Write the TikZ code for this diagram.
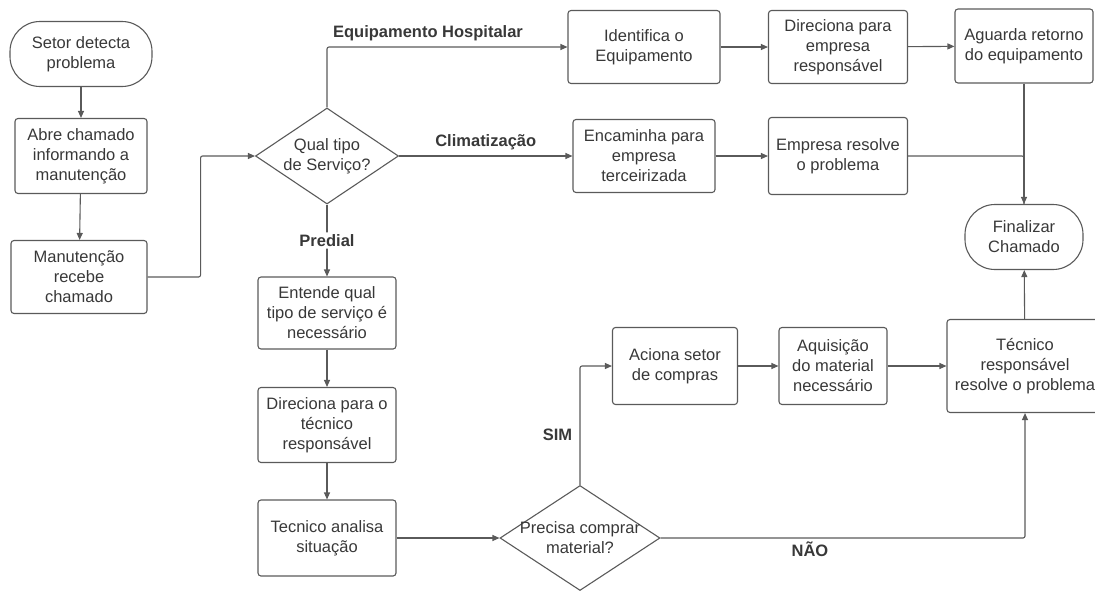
\documentclass[tikz,border=0pt]{standalone}
\usepackage{fontspec}
\setmainfont{Liberation Sans}
\usepackage{tikz}
\usetikzlibrary{shapes.geometric,arrows.meta}
\definecolor{fcline}{HTML}{5A5A5A}
\definecolor{fctext}{HTML}{383838}

\begin{document}
\begin{tikzpicture}[x=1pt, y=-1pt,
  every node/.style={text=fctext, font=\fontsize{16.5}{20}\selectfont, align=center},
  procbox/.style={draw=fcline, line width=1.1pt, rounded corners=3pt, inner sep=0pt},
  termbox/.style={draw=fcline, line width=1.1pt, rounded corners=30pt, inner sep=0pt},
  decbox/.style={diamond, draw=fcline, line width=1.1pt, inner sep=0pt},
  flow/.style={draw=fcline, line width=1.1pt, rounded corners=2pt, -{Triangle[length=7pt, width=6pt]}},
  link/.style={draw=fcline, line width=1.1pt, rounded corners=2pt},
  flowlabel/.style={font=\fontsize{16.5}{20}\selectfont\bfseries}]
  \useasboundingbox (0,0) rectangle (1095,590);
  % left column
  \node[termbox, minimum width=142pt, minimum height=65pt] (setor) at (81,54) {Setor detecta\\problema};
  \node[procbox, minimum width=132pt, minimum height=75pt] (abre) at (81,156) {Abre chamado\\informando a\\manutenção};
  \node[procbox, minimum width=136pt, minimum height=73pt] (manut) at (79,277) {Manutenção\\recebe\\chamado};
  % first decision
  \node[decbox, minimum width=143pt, minimum height=96pt, label={center:Qual tipo\\de Serviço?}] (qual) at (327,156) {};
  % top row
  \node[procbox, minimum width=152pt, minimum height=73pt] (ident) at (644,47) {Identifica o\\Equipamento};
  \node[procbox, minimum width=139pt, minimum height=73pt] (diremp) at (838,47) {Direciona para\\empresa\\responsável};
  \node[procbox, minimum width=138pt, minimum height=74pt] (aguarda) at (1024,46) {Aguarda retorno\\do equipamento};
  % second row
  \node[procbox, minimum width=142pt, minimum height=73pt] (encam) at (644,156) {Encaminha para\\empresa\\terceirizada};
  \node[procbox, minimum width=139pt, minimum height=77pt] (empres) at (838,156) {Empresa resolve\\o problema};
  \node[termbox, minimum width=118pt, minimum height=65pt] (final) at (1024,237) {Finalizar\\Chamado};
  % predial column
  \node[procbox, minimum width=138pt, minimum height=72pt] (entende) at (327,313) {Entende qual\\tipo de serviço é\\necessário};
  \node[procbox, minimum width=138pt, minimum height=75pt] (dirtec) at (327,425) {Direciona para o\\técnico\\responsável};
  \node[procbox, minimum width=138pt, minimum height=76pt] (analisa) at (327,538) {Tecnico analisa\\situação};
  % second decision
  \node[decbox, minimum width=160pt, minimum height=105pt, label={center:Precisa comprar\\material?}] (precisa) at (580,538) {};
  % bottom row
  \node[procbox, minimum width=125pt, minimum height=77pt] (aciona) at (675,366) {Aciona setor\\de compras};
  \node[procbox, minimum width=108pt, minimum height=77pt] (aquis) at (833,366) {Aquisição\\do material\\necessário};
  \node[procbox, minimum width=156pt, minimum height=93pt] (tecnico) at (1025,366) {Técnico\\responsável\\resolve o problema};

  % connectors
  \draw[flow] (setor) -- (abre);
  \draw[flow] (abre) -- (manut);
  \draw[flow] (manut.east) -- ++(53,0) |- (qual.west);
  \draw[flow] (qual.north) |- (ident.west) node[flowlabel, pos=0.71, above=2pt] {Equipamento Hospitalar};
  \draw[flow] (ident) -- (diremp);
  \draw[flow] (diremp) -- (aguarda);
  \draw[flow] (qual.east) -- (encam.west) node[flowlabel, midway, above=2pt] {Climatização};
  \draw[flow] (encam) -- (empres);
  \draw[flow] (aguarda) -- (final);
  \draw[link] (empres.east) -| (final.north);
  \draw[flow] (qual.south) -- (entende.north) node[flowlabel, midway, fill=white, inner sep=2pt] {Predial};
  \draw[flow] (entende) -- (dirtec);
  \draw[flow] (dirtec) -- (analisa);
  \draw[flow] (analisa) -- (precisa.west);
  \draw[flow] (precisa.north) |- (aciona.west) node[flowlabel, pos=0.21, left=4pt] {SIM};
  \draw[flow] (aciona) -- (aquis);
  \draw[flow] (aquis) -- (tecnico);
  \draw[flow] (precisa.east) -| (tecnico.south) node[flowlabel, pos=0.205, below=0pt] {NÃO};
  \draw[flow] (tecnico) -- (final);
\end{tikzpicture}
\end{document}
